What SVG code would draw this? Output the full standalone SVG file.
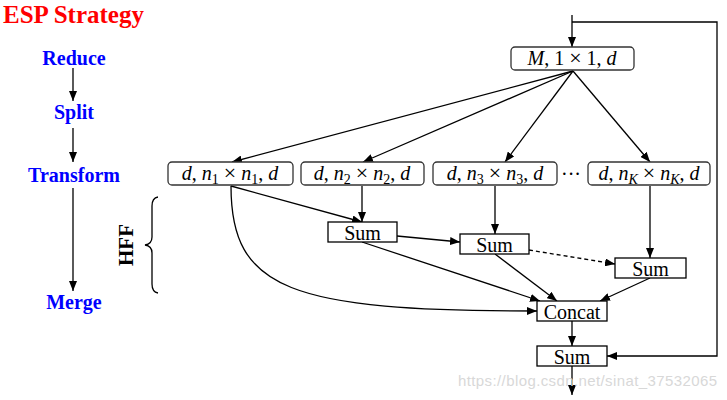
<svg xmlns="http://www.w3.org/2000/svg" width="727" height="400" viewBox="0 0 727 400">
<style>
.title{font-family:"Liberation Serif",serif;font-weight:bold;font-size:25px;fill:#ff0000}
.step{font-family:"Liberation Serif",serif;font-weight:bold;font-size:20px;fill:#0000ff;text-anchor:middle}
.hff{font-family:"Liberation Serif",serif;font-weight:bold;font-size:21px;fill:#000;text-anchor:middle}
.m{font-family:"Liberation Serif",serif;font-size:20px;fill:#000;text-anchor:middle}
.i{font-style:italic}
.sub{font-size:14px}
.x{font-size:22px}
.rbox{fill:#fff;stroke:#333;stroke-width:1.3}
.box{fill:#fff;stroke:#000;stroke-width:1.3}
.ln{fill:none;stroke:#000;stroke-width:1.3}
.wm{font-family:"Liberation Sans",sans-serif;font-size:15px;fill:#d8d8d8}
</style>
<defs>
<marker id="ah" viewBox="0 0 10 8" refX="10" refY="4" markerWidth="10" markerHeight="8" markerUnits="userSpaceOnUse" orient="auto">
<path d="M0,0 L10,4 L0,8 z" fill="#000"/>
</marker>
</defs>

<text class="title" x="3" y="23">ESP Strategy</text>

<g id="steps">
<text class="step" x="74" y="65">Reduce</text>
<text class="step" x="74" y="119">Split</text>
<text class="step" x="74" y="182">Transform</text>
<text class="step" x="74" y="309">Merge</text>
</g>

<g id="hff">
<text class="hff" transform="translate(133,245) rotate(-90)">HFF</text>
<path class="ln" d="M158,197 Q152,198 152,206 V237 Q152,244 145,245 Q152,246 152,253 V284 Q152,292 158,293"/>
</g>

<g id="connectors">
<path class="ln" d="M73,68 V101" marker-end="url(#ah)"/>
<path class="ln" d="M73,128 V162" marker-end="url(#ah)"/>
<path class="ln" d="M73,188 V291" marker-end="url(#ah)"/>
<path class="ln" d="M572,15 V47" marker-end="url(#ah)"/>
<path class="ln" d="M572,22 H717 V356 H607" marker-end="url(#ah)"/>
<path class="ln" d="M573,71 L232,162" marker-end="url(#ah)"/>
<path class="ln" d="M573,71 L363,162" marker-end="url(#ah)"/>
<path class="ln" d="M573,71 L505,162" marker-end="url(#ah)"/>
<path class="ln" d="M573,71 L650,162" marker-end="url(#ah)"/>
<path class="ln" d="M231,186 L362,222" marker-end="url(#ah)"/>
<path class="ln" d="M362,186 V222" marker-end="url(#ah)"/>
<path class="ln" d="M231,186 C231,290 290,311 537,311" marker-end="url(#ah)"/>
<path class="ln" d="M495,186 V234" marker-end="url(#ah)"/>
<path class="ln" d="M397,236 L460,242" marker-end="url(#ah)"/>
<path class="ln" d="M529,250 L615,264" stroke-dasharray="4,3" marker-end="url(#ah)"/>
<path class="ln" d="M650,186 V258" marker-end="url(#ah)"/>
<path class="ln" d="M362,242 L540,301" marker-end="url(#ah)"/>
<path class="ln" d="M495,254 L557,301" marker-end="url(#ah)"/>
<path class="ln" d="M650,278 L600,301" marker-end="url(#ah)"/>
<path class="ln" d="M572,321 V346" marker-end="url(#ah)"/>
<path class="ln" d="M572,366 V395" marker-end="url(#ah)"/>
</g>

<g id="nodeM">
<rect class="rbox" x="511" y="47" width="123" height="23" rx="4"/>
<text class="m" x="572" y="65"><tspan class="i">M</tspan>, 1 <tspan class="x">×</tspan> 1, <tspan class="i">d</tspan></text>
</g>

<g id="node1">
<rect class="rbox" x="168" y="162" width="125" height="23" rx="4"/>
<text class="m" x="230" y="180"><tspan class="i">d</tspan>, <tspan class="i">n</tspan><tspan class="sub" dy="4">1</tspan><tspan dy="-4"> </tspan><tspan class="x">×</tspan> <tspan class="i">n</tspan><tspan class="sub" dy="4">1</tspan><tspan dy="-4">, </tspan><tspan class="i">d</tspan></text>
</g>
<g id="node2">
<rect class="rbox" x="301" y="162" width="123" height="23" rx="4"/>
<text class="m" x="362" y="180"><tspan class="i">d</tspan>, <tspan class="i">n</tspan><tspan class="sub" dy="4">2</tspan><tspan dy="-4"> </tspan><tspan class="x">×</tspan> <tspan class="i">n</tspan><tspan class="sub" dy="4">2</tspan><tspan dy="-4">, </tspan><tspan class="i">d</tspan></text>
</g>
<g id="node3">
<rect class="rbox" x="433" y="162" width="124" height="23" rx="4"/>
<text class="m" x="495" y="180"><tspan class="i">d</tspan>, <tspan class="i">n</tspan><tspan class="sub" dy="4">3</tspan><tspan dy="-4"> </tspan><tspan class="x">×</tspan> <tspan class="i">n</tspan><tspan class="sub" dy="4">3</tspan><tspan dy="-4">, </tspan><tspan class="i">d</tspan></text>
</g>
<g id="dots">
<text class="m" x="571" y="181">···</text>
</g>
<g id="nodeK">
<rect class="rbox" x="588" y="162" width="122" height="23" rx="4"/>
<text class="m" x="649" y="180"><tspan class="i">d</tspan>, <tspan class="i">n</tspan><tspan class="sub i" dy="4">K</tspan><tspan dy="-4"> </tspan><tspan class="x">×</tspan> <tspan class="i">n</tspan><tspan class="sub i" dy="4">K</tspan><tspan dy="-4">, </tspan><tspan class="i">d</tspan></text>
</g>

<g id="sum1">
<rect class="box" x="328" y="222" width="69" height="20"/>
<text class="m" x="362.5" y="240">Sum</text>
</g>
<g id="sum2">
<rect class="box" x="460" y="234" width="69" height="20"/>
<text class="m" x="494.5" y="252">Sum</text>
</g>
<g id="sum3">
<rect class="box" x="615" y="258" width="71" height="20"/>
<text class="m" x="650.5" y="276">Sum</text>
</g>
<g id="concat">
<rect class="box" x="537" y="301" width="70" height="20"/>
<text class="m" x="572" y="319">Concat</text>
</g>
<g id="sumOut">
<rect class="box" x="537" y="346" width="70" height="20"/>
<text class="m" x="572" y="364">Sum</text>
</g>

<text class="wm" x="458" y="386" textLength="259">https://blog.csdn.net/sinat_37532065</text>
</svg>
